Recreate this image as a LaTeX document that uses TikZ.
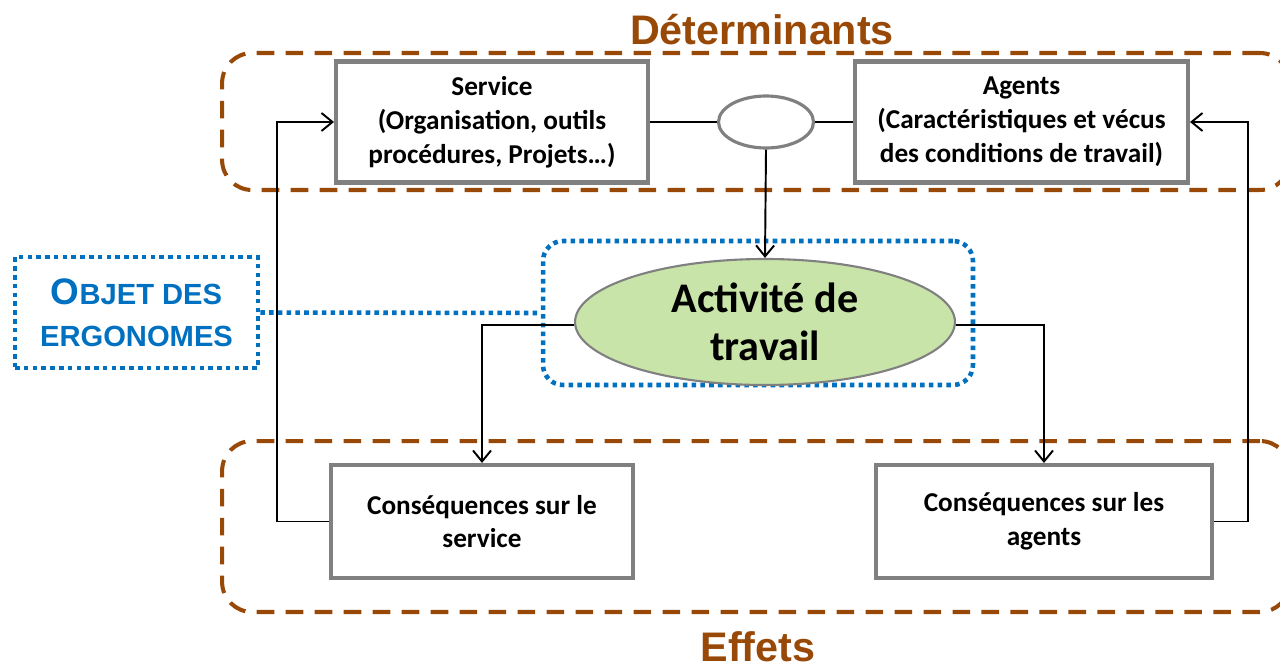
\documentclass[tikz,border=0pt]{standalone}
\usepackage{fontspec}
\setmainfont{Carlito}
\newfontfamily\arialfont{Liberation Sans}
\usetikzlibrary{arrows.meta,shapes.geometric}
\definecolor{zonebrown}{RGB}{152,72,7}
\definecolor{ergoblue}{RGB}{0,112,192}
\definecolor{boxgray}{RGB}{128,128,128}
\definecolor{actgreen}{RGB}{200,228,168}
\begin{document}
\begin{tikzpicture}[x=0.02cm, y=-0.02cm,
zone/.style={rectangle, draw=zonebrown, line width=2.3pt, dash pattern=on 10pt off 6.5pt, rounded corners=0.6cm, minimum width=21.36cm},
zonetitle/.style={text=zonebrown, font=\arialfont\bfseries\fontsize{23.5}{26}\selectfont},
factor/.style={rectangle, draw=boxgray, line width=2.3pt, fill=white, align=center, font=\bfseries\fontsize{15.5}{19.3}\selectfont},
knot/.style={ellipse, draw=boxgray, line width=1.8pt, fill=white, minimum width=1.9cm, minimum height=1.04cm},
activity/.style={ellipse, draw=boxgray, line width=1.2pt, fill=actgreen, align=center, minimum width=7.6cm, minimum height=2.08cm, font=\bfseries\fontsize{24}{27}\selectfont},
ergo/.style={rectangle, draw=ergoblue, line width=2.6pt, dash pattern=on 2.6pt off 2.4pt},
link/.style={line width=1.1pt},
arr/.style={line width=1.1pt, -{Straight Barb[length=2.2mm, width=3.6mm, line width=1.1pt]}},
]
\useasboundingbox (0,0) rectangle (1280,669);
% zones
\node[zone, minimum height=2.74cm] (detzone) at (756,121.5) {};
\node[zone, minimum height=3.42cm] (effzone) at (756,526.5) {};
\node[zonetitle] (dettitle) at (762,30) {Déterminants};
\node[zonetitle] (efftitle) at (758,647) {Effets};
% objet des ergonomes
\node[ergo, rounded corners=0.4cm, minimum width=8.6cm, minimum height=2.88cm] (focus) at (758,313) {};
\node[ergo, minimum width=4.86cm, minimum height=2.22cm, align=center, text=ergoblue,
  font=\arialfont\bfseries\fontsize{16.6}{24}\selectfont] (objet) at (136.5,312.5)
  {{\fontsize{21}{24}\selectfont O}BJET DES\\ERGONOMES};
% feedback loops
\node[factor, minimum width=6.04cm, minimum height=2.26cm] (conssvc) at (482,521.5) {Conséquences sur le\\service};
\node[factor, minimum width=6.72cm, minimum height=2.26cm] (consag) at (1044,521.5) {Conséquences sur les\\agents};
\node[factor, minimum width=6.24cm, minimum height=2.42cm] (service) at (492,122)
  {Service\\(Organisation, outils\\procédures, Projets…)};
\node[factor, minimum width=6.66cm, minimum height=2.42cm] (agents) at (1021.5,122)
  {Agents\\(Caractéristiques et vécus\\des conditions de travail)};
\draw[arr] (conssvc.west) -- ++(-1.04cm,0) |- (service.west);
\draw[arr] (consag.east) -- ++(0.68cm,0) |- (agents.east);
% activite
\node[knot] (knot) at (766,122) {};
\draw[link] (service.east) -- (knot.west);
\draw[link] (knot.east) -- (agents.west);
\node[activity] (act) at (765,322) {Activité de\\travail};
\draw[arr] (knot.south) -- (act.north);
\draw[arr] ([yshift=-0.06cm]act.west) -| (conssvc.north);
\draw[arr] ([yshift=-0.06cm]act.east) -| (consag.north);
\draw[ergo] (objet.east) -- (focus.west);
\end{tikzpicture}
\end{document}
